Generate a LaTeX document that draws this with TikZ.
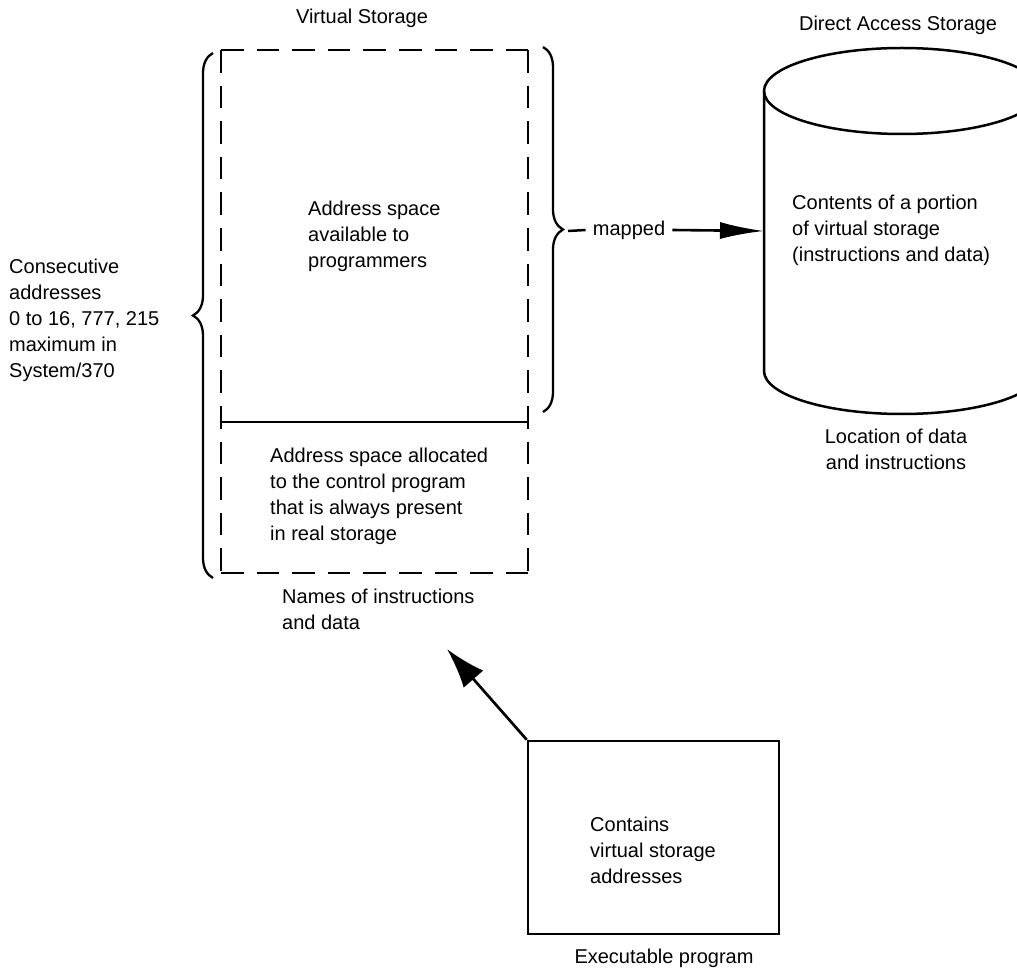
\documentclass[tikz,border=0pt]{standalone}
\usepackage{fontspec}
\setmainfont{Liberation Sans}
\usetikzlibrary{arrows.meta,decorations.pathreplacing}
\begin{document}
\begin{tikzpicture}[x=1pt,y=-1pt,
  lbl/.style={font=\fontsize{20}{26}\selectfont, inner sep=0pt, align=left},
  dashbox/.style={line width=2.7pt, dash pattern=on 22.6pt off 13pt},
  solidline/.style={line width=2.5pt},
  brc/.style={line width=2.3pt, decorate, decoration={brace, amplitude=20pt}},
  arr/.style={line width=2.6pt, -{Latex[length=44pt,width=17pt]}},
  diag/.style={line width=2.7pt, -{Latex[length=40pt,width=26pt]}}]
\useasboundingbox (0,0) rectangle (1017,973);
\clip (0,0) rectangle (1017,973);

% titles
\node[lbl, anchor=center] (vs) at (362,18) {Virtual Storage};
\node[lbl, anchor=center] (das) at (898,25) {Direct Access Storage};

% dashed virtual storage box
\coordinate (tl) at (221,50);
\coordinate (tr) at (528,50);
\coordinate (bl) at (221,573);
\coordinate (br) at (528,573);
\coordinate (ml) at (221,422);
\coordinate (mr) at (528,422);
\draw[dashbox] (tl) -- (tr);
\draw[dashbox] (tl) -- (bl);
\draw[dashbox] (tr) -- (br);
\draw[dashbox] (bl) -- (br);
\draw[solidline] (ml) -- (mr);

% braces
\draw[brc] (213,578) -- (213,53);
\draw[brc] (543,47) -- (543,412);
\coordinate (rtip) at (568,231);

% texts in the box
\node[lbl, anchor=west] (avail) at (308,236) {Address space\\available to\\programmers};
\node[lbl, anchor=west] (alloc) at (270,496) {Address space allocated\\to the control program\\that is always present\\in real storage};
\node[lbl, anchor=west] (names) at (282,609) {Names of instructions\\and data};
\node[lbl, anchor=west] (consec) at (9,320) {Consecutive\\addresses\\0 to 16, 777, 215\\maximum in\\System/370};

% cylinder
\draw[solidline] (902,91) ellipse [x radius=138, y radius=43];
\draw[solidline] (764,91) -- (764,371) arc[start angle=180, end angle=0, x radius=138, y radius=43] -- (1040,91);
\coordinate (cylL) at (764,231);
\node[lbl, anchor=west] (contents) at (792,230) {Contents of a portion\\of virtual storage\\(instructions and data)};
\node[lbl, anchor=center, align=center] (location) at (896,449) {Location of data\\and instructions};

% mapped arrow
\node[lbl, anchor=center, inner xsep=7pt, fill=white] (mapped) at (629,230) {mapped};
\draw[solidline] (rtip) -- (mapped.west);
\draw[arr] (mapped.east) -- (cylL);

% executable program
\node[draw, line width=2.5pt, minimum width=251pt, minimum height=193pt, inner sep=0pt] (exec) at (653.5,837.5) {};
\node[lbl, anchor=west] (contains) at (590,850) {Contains\\virtual storage\\addresses};
\node[lbl, anchor=center] (execlbl) at (664,958) {Executable program};
\coordinate (ntip) at (447,649);
\draw[diag] (exec.north west) -- (ntip);
\end{tikzpicture}
\end{document}
